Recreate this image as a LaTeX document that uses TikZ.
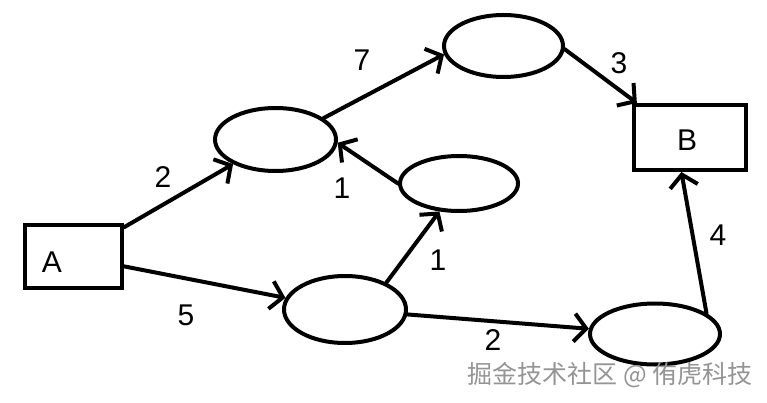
\documentclass[tikz,border=0pt]{standalone}
\usepackage{fontspec}
\setmainfont{Liberation Sans}
\newfontfamily\cjkfont{Noto Sans CJK SC}
\usetikzlibrary{shapes.geometric, arrows.meta, positioning}

\begin{document}
\begin{tikzpicture}[x=1pt, y=-1pt,
		box/.style={draw, line width=4pt, rectangle, inner sep=0pt},
		blob/.style={draw, line width=4pt, ellipse, inner sep=0pt},
		link/.style={-{Straight Barb[length=12pt, width=28pt]}, line width=4pt, line cap=round},
		wt/.style={font=\fontsize{30}{32}\selectfont}]
		
		\useasboundingbox (0, 0) rectangle (767, 403);
		
		% Start and end
		\node[box, minimum width=97pt, minimum height=63pt] (a) at (73.5, 256.5) {};
		\node[wt] (atext) at (52, 262) {A};
		\node[box, minimum width=112pt, minimum height=65pt] (b) at (690, 137.5) {};
		\node[wt] (btext) at (687, 140) {B};
		
		% Middle stops
		\node[blob, minimum width=121pt, minimum height=63pt] (e1) at (275.5, 139.5) {};
		\node[blob, minimum width=119pt, minimum height=62pt] (e2) at (503.5, 46) {};
		\node[blob, minimum width=118pt, minimum height=55pt] (e3) at (459, 183.5) {};
		\node[blob, minimum width=122pt, minimum height=67pt] (e4) at (345, 309.5) {};
		\node[blob, minimum width=130pt, minimum height=61pt] (e5) at (655, 334) {};
		
		% Edges
		\draw[link] (a) -- (e1);
		\draw[link] (a) -- (e4);
		\draw[link] (e1.24) -- (e2.188);
		\draw[link] (e3.west) -- (e1.357);
		\draw[link] (e4.33) -- (e3.235);
		\draw[link] (e4) -- (e5);
		\draw[link] (e2.357) -- (b.147);
		\draw[link] (e5.22) -- (b.256);
		
		% Weights
		\node[wt] (w1) at (163, 177) {2};
		\node[wt] (w2) at (186, 315) {5};
		\node[wt] (w3) at (362, 60) {7};
		\node[wt] (w4) at (342, 188) {1};
		\node[wt] (w5) at (438, 260) {1};
		\node[wt] (w6) at (493, 340) {2};
		\node[wt] (w7) at (619, 63) {3};
		\node[wt] (w8) at (718, 235) {4};
		
		\node[font=\cjkfont\fontsize{25}{27}\selectfont, text=black!42] (mark) at (610, 375) {掘金技术社区 @ 侑虎科技};
		
	\end{tikzpicture}
\end{document}
